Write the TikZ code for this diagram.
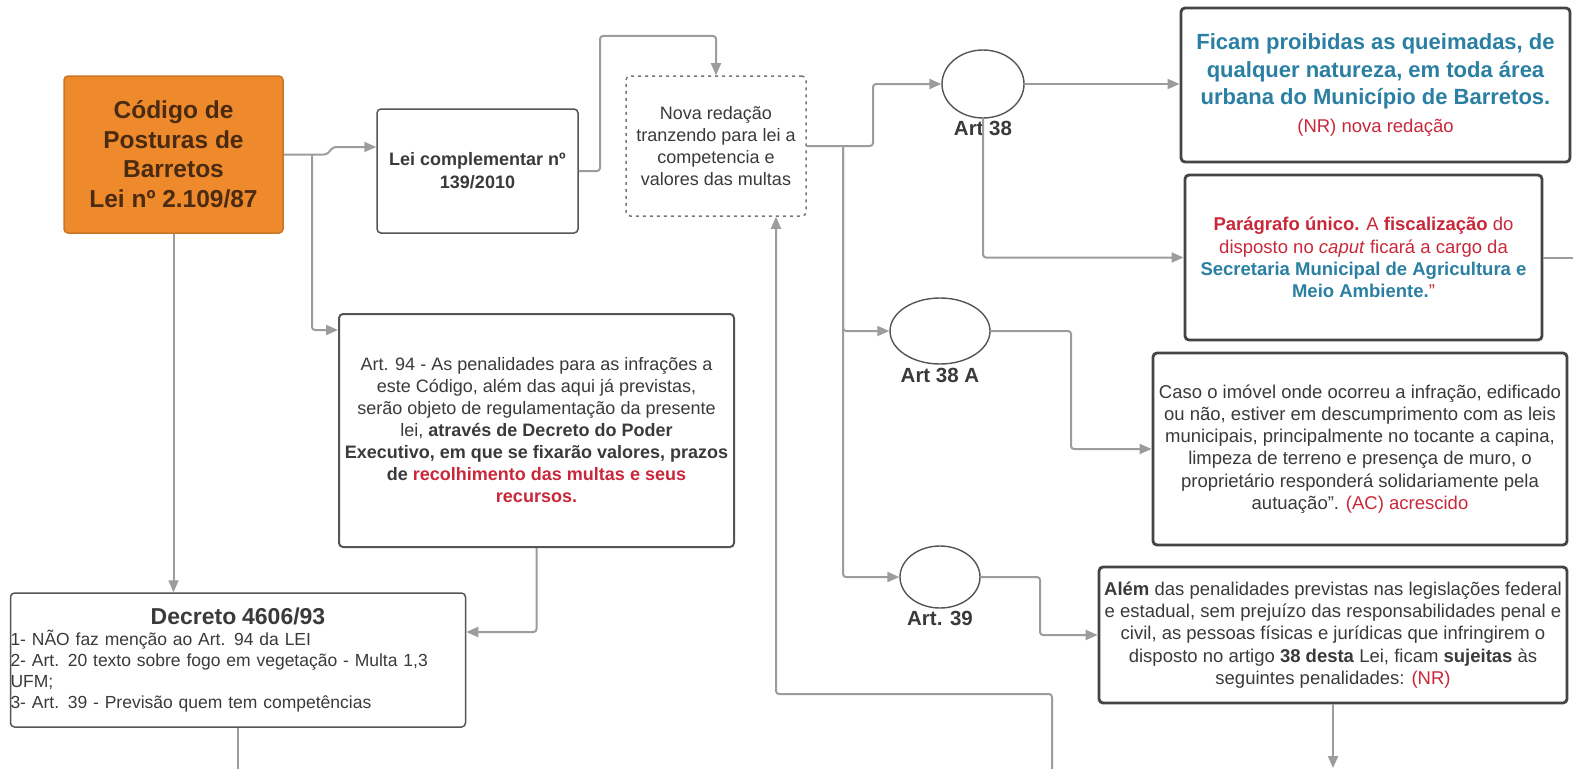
\documentclass[tikz,border=0pt]{standalone}
\usepackage{fontspec}
\setmainfont{Liberation Sans}
\usetikzlibrary{arrows.meta,positioning,shapes.geometric}
\definecolor{laranja}{HTML}{EE8A2C}
\definecolor{marrom}{HTML}{4A2A10}
\definecolor{azul}{HTML}{2A7FA2}
\definecolor{vermelho}{HTML}{C8283A}
\definecolor{texto}{HTML}{3A3A3A}
\definecolor{seta}{HTML}{9C9C9C}
\definecolor{borda}{HTML}{555555}
\newcommand{\vm}[1]{\textcolor{vermelho}{#1}}
\newcommand{\az}[1]{\textcolor{azul}{#1}}
\begin{document}
\begin{tikzpicture}[x=1pt, y=-1pt, >={Triangle[length=12pt,width=10pt]},
  link/.style={draw=seta, line width=2pt, rounded corners=3pt, ->},
  trilha/.style={draw=seta, line width=2pt, rounded corners=3pt},
  caixa/.style={draw=borda, line width=1.5pt, rounded corners=4pt, fill=white,
    inner sep=0pt, align=center, text=texto, font=\fontsize{18}{22}\selectfont},
  grossa/.style={caixa, line width=2.8pt, draw=borda!80!black, font=\fontsize{18.5}{22.2}\selectfont},
  artigo/.style={ellipse, draw=borda, line width=1.4pt, inner sep=0pt},
  rotulo/.style={text=texto, font=\fontsize{20.5}{22}\selectfont\bfseries, inner sep=0pt}]
\clip (0,0) rectangle (1573,768);
\fill[white] (0,0) rectangle (1573,768);
% lei e decretos
\node[caixa, fill=laranja, draw=laranja!85!black, text=marrom, minimum width=219, minimum height=157,
  font=\fontsize{24.5}{29.5}\selectfont\bfseries] (codigo) at (173.5,154.5)
  {Código de\\Posturas de\\Barretos\\Lei nº 2.109/87};
\node[caixa, minimum width=201, minimum height=124, font=\fontsize{18}{23}\selectfont\bfseries]
  (lei) at (477.5,171) {Lei complementar nº\\139/2010};
\node[caixa, dash pattern=on 3pt off 4pt, draw=borda!80, minimum width=180, minimum height=140]
  (nova) at (716,146) {Nova redação\\tranzendo para lei a\\competencia e\\valores das multas};
\node[caixa, line width=2pt, minimum width=395, minimum height=233] (art94) at (536.5,430.5)
  {Art. 94 - As penalidades para as infrações a\\este Código, além das aqui já previstas,\\
   serão objeto de regulamentação da presente\\lei, \textbf{através de Decreto do Poder}\\
   \textbf{Executivo, em que se fixarão valores, prazos}\\
   \textbf{de \vm{recolhimento das multas e seus}}\\\textbf{\vm{recursos.}}};
\node[caixa, align=left, text width=455, minimum height=134, font=\fontsize{17.5}{21}\selectfont]
  (decreto) at (238,660)
  {\centerline{\fontsize{23}{25}\selectfont\bfseries Decreto 4606/93}
   1- NÃO faz menção ao Art. 94 da LEI\\
   2- Art. 20 texto sobre fogo em vegetação - Multa 1,3\\UFM;\\
   3- Art. 39 - Previsão quem tem competências};
% artigos
\node[artigo, minimum width=82, minimum height=68] (art38) at (983,84) {};
\node[artigo, minimum width=100, minimum height=66] (art38a) at (940,331) {};
\node[artigo, minimum width=80, minimum height=62] (art39) at (940,577) {};
\node[rotulo, below=2pt of art38] (rot38) {Art 38};
\node[rotulo, below=3pt of art38a] (rot38a) {Art 38 A};
\node[rotulo, below=2pt of art39] (rot39) {Art. 39};
% textos dos artigos
\node[grossa, minimum width=389, minimum height=154, text=azul,
  font=\fontsize{22}{27.5}\selectfont\bfseries] (ficam) at (1375.5,85)
  {Ficam proibidas as queimadas, de\\qualquer natureza, em toda área\\
   urbana do Município de Barretos.\\
   \vm{\fontsize{18.5}{20}\selectfont\mdseries (NR) nova redação}};
\node[grossa, minimum width=357, minimum height=165] (paragrafo) at (1363.5,257.5)
  {\vm{\textbf{Parágrafo único.} A \textbf{fiscalização} do}\\
   \vm{disposto no \textit{caput} ficará a cargo da}\\
   \az{\textbf{Secretaria Municipal de Agricultura e}}\\
   \az{\textbf{Meio Ambiente.}}\vm{"}};
\node[grossa, minimum width=414, minimum height=192] (caso) at (1360,449)
  {Caso o imóvel onde ocorreu a infração, edificado\\
   ou não, estiver em descumprimento com as leis\\
   municipais, principalmente no tocante a capina,\\
   limpeza de terreno e presença de muro, o\\
   proprietário responderá solidariamente pela\\
   autuação". \vm{(AC) acrescido}};
\node[grossa, minimum width=468, minimum height=136] (alem) at (1333,635)
  {\textbf{Além} das penalidades previstas nas legislações federal\\
   e estadual, sem prejuízo das responsabilidades penal e\\
   civil, as pessoas físicas e jurídicas que infringirem o\\
   disposto no artigo \textbf{38 desta} Lei, ficam \textbf{sujeitas} às\\
   seguintes penalidades: \vm{(NR)}};
% conectores
\coordinate (ramo) at (312,154.5);
\coordinate (tronco) at (843,146);
\coordinate (retorno) at (1052,770);
\coordinate (saida) at (1575,257.5);
\draw[link] (codigo.east) -- (327,154.5) -- (333,147) -- (lei.west |- 0,147);
\draw[link] (ramo) |- (art94.west |- 0,330);
\draw[link] (codigo.south) -- (codigo.south |- decreto.north);
\draw[link] (art94.south) |- (decreto.east |- 0,632);
\draw[trilha] (decreto.south) -- ++(0,45);
\draw[link] (lei.east) -| (600,36) -| (nova.north);
\draw[link] (nova.east) -| (873,100) |- (art38.west);
\draw[link] (tronco) |- (art38a.west);
\draw[link] (tronco) |- (art39.west);
\draw[link] (art38.east) -- (ficam.west |- art38.east);
\draw[link] (art38.south) |- (paragrafo.west);
\draw[trilha] (paragrafo.east) -- (saida);
\draw[link] (art38a.east) -| (1071,400) |- (caso.west);
\draw[link] (art39.east) -| (1040,610) |- (alem.west);
\draw[link] (alem.south) -- (alem.south |- 0,768);
\draw[link] (retorno) |- (776,694) -- (nova.south -| 776,0);
\end{tikzpicture}
\end{document}
